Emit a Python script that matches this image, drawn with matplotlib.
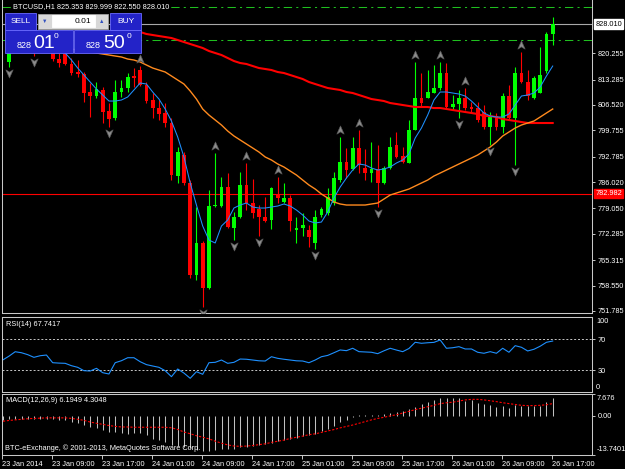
import numpy as np
import matplotlib.pyplot as plt
from matplotlib import transforms
from matplotlib.patches import Rectangle
from matplotlib.path import Path

plt.rcParams["font.family"] = ["Liberation Sans", "DejaVu Sans"]

# BTCUSD H1 (BTC-e), bars from 23 Jan 2014 01:00 to 26 Jan 2014 17:00
opens = [
    823.78, 817.94, 820.86, 822.72, 821.66, 821.13, 820.59, 822.19, 821.66, 818.73,
    820.06, 817.41, 815.28, 814.75, 809.97, 808.90, 810.50, 804.92, 803.06, 809.97,
    811.03, 814.22, 815.81, 811.82, 807.84, 805.71, 804.39, 801.73, 787.65, 793.23,
    785.79, 761.34, 769.85, 757.89, 779.67, 779.67, 784.72, 773.83, 776.75, 785.26,
    780.47, 778.88, 776.75, 775.95, 782.60, 780.74, 781.80, 773.30, 773.83, 773.30,
    769.85, 777.28, 777.81, 780.47, 786.58, 791.37, 789.51, 795.09, 789.77, 788.44,
    789.51, 785.79, 789.77, 795.88, 792.96, 791.10, 799.87, 808.37, 808.37, 809.70,
    811.03, 815.01, 805.98, 806.78, 808.37, 805.98, 805.71, 804.65, 800.67, 803.59,
    800.67, 808.90, 803.06, 815.01, 812.62, 808.37, 809.70, 815.54, 825.353,
]
highs = [
    825.11, 822.45, 824.31, 823.78, 822.45, 821.92, 823.25, 824.31, 822.45, 820.33,
    820.59, 819.00, 818.47, 815.28, 812.36, 812.62, 811.29, 807.04, 813.15, 813.15,
    815.01, 816.34, 816.87, 812.62, 809.70, 807.84, 807.04, 803.06, 795.35, 794.02,
    786.58, 779.41, 770.38, 783.93, 793.76, 787.38, 788.44, 778.08, 788.71, 791.10,
    786.85, 779.94, 782.07, 784.72, 787.38, 785.79, 782.60, 776.75, 777.81, 774.63,
    778.61, 779.41, 784.46, 788.71, 798.01, 795.09, 798.01, 799.87, 794.82, 796.68,
    795.88, 790.30, 798.01, 799.34, 795.35, 802.53, 817.94, 815.01, 815.81, 817.14,
    817.94, 817.67, 809.17, 810.50, 811.03, 807.31, 807.31, 806.51, 804.65, 804.39,
    809.70, 811.82, 816.61, 820.59, 815.81, 814.22, 821.92, 825.91, 829.999,
]
lows = [
    821.13, 816.61, 820.59, 820.86, 820.59, 819.53, 820.59, 821.66, 818.20, 816.61,
    817.14, 814.48, 813.95, 807.31, 803.32, 808.37, 801.73, 800.67, 802.53, 808.64,
    809.97, 811.29, 811.56, 807.04, 803.06, 802.53, 800.67, 786.58, 785.79, 785.26,
    760.54, 760.01, 752.84, 757.62, 779.41, 779.41, 773.83, 770.64, 776.49, 778.61,
    776.49, 771.71, 775.42, 773.56, 780.47, 780.47, 773.03, 769.85, 771.71, 768.78,
    768.25, 776.75, 777.28, 779.94, 786.05, 787.11, 789.24, 788.44, 786.58, 786.05,
    779.41, 785.52, 789.51, 792.43, 791.10, 791.10, 799.87, 805.98, 808.37, 809.70,
    810.50, 805.71, 805.18, 803.06, 805.18, 804.65, 801.99, 800.13, 795.88, 799.87,
    799.07, 802.53, 790.57, 812.36, 807.84, 808.10, 809.70, 815.01, 822.550,
]
closes = [
    821.66, 820.59, 822.72, 821.66, 821.13, 820.33, 822.19, 823.25, 818.73, 817.67,
    817.41, 815.01, 814.75, 809.70, 808.90, 810.76, 804.65, 802.79, 809.97, 811.03,
    813.95, 813.82, 811.82, 807.57, 805.71, 804.12, 801.73, 787.91, 794.02, 785.79,
    761.34, 769.85, 757.89, 779.67, 779.94, 784.72, 774.10, 776.75, 785.26, 780.47,
    777.81, 776.75, 775.69, 784.46, 781.80, 781.80, 775.69, 773.83, 774.63, 771.44,
    776.75, 778.88, 782.07, 787.11, 791.37, 789.24, 795.09, 790.57, 788.44, 789.51,
    785.79, 789.77, 795.35, 792.70, 791.37, 799.87, 808.37, 807.04, 809.97, 811.03,
    815.01, 805.98, 806.78, 808.37, 805.71, 805.45, 802.53, 800.67, 803.32, 800.67,
    808.90, 803.06, 815.01, 812.62, 808.90, 813.69, 814.48, 825.38, 828.010,
]

# moving averages
ma_fast = [  # blue, from bar 10
    820.33, 818.47, 816.34, 814.48, 812.62, 810.76, 809.17, 807.57, 807.57, 807.84,
    808.64, 810.50, 812.36, 812.09, 809.97, 808.10, 805.45, 802.26, 798.01, 792.70,
    785.79, 779.94, 774.36, 770.64, 769.85, 774.36, 775.95, 779.14, 779.94, 780.47,
    779.41, 779.14, 779.14, 779.41, 779.67, 780.21, 779.67, 778.61, 777.28, 775.69,
    775.16, 775.42, 778.08, 781.80, 784.72, 787.11, 789.24, 790.84, 790.57, 789.77,
    789.24, 789.51, 790.04, 791.10, 791.90, 793.49, 797.74, 800.40, 803.85, 807.84,
    809.97, 809.97, 809.70, 809.43, 808.90, 807.57, 805.98, 804.39, 803.59, 803.32,
    803.32, 804.12, 806.51, 808.90, 809.17, 809.70, 811.29, 814.22, 816.87,
]
ma_mid = [  # orange, from bar 9
    821.92, 821.66, 821.39, 821.13, 820.86, 820.59, 820.33, 820.06, 819.80, 819.53,
    819.27, 818.73, 818.47, 817.94, 817.14, 816.34, 815.81, 815.28, 814.22, 813.15,
    812.09, 810.23, 808.10, 805.45, 803.85, 802.53, 801.20, 799.60, 798.28, 797.21,
    796.15, 795.09, 794.02, 792.70, 791.90, 790.84, 790.04, 788.97, 787.91, 786.58,
    785.26, 784.19, 782.86, 781.80, 780.74, 780.21, 779.94, 779.94, 779.94, 779.94,
    780.21, 780.47, 781.53, 782.60, 783.13, 783.66, 784.19, 784.99, 785.79, 786.58,
    787.65, 788.44, 789.24, 790.04, 790.84, 791.63, 792.43, 793.23, 794.29, 795.35,
    796.68, 798.28, 799.34, 800.40, 801.20, 801.73, 802.26, 803.32, 804.39, 805.45,
]
ma_slow = [  # red, from bar 20
    826.44, 826.17, 825.91, 825.38, 825.11, 824.84, 824.58, 824.31, 823.78, 823.25,
    822.72, 822.19, 821.66, 820.86, 820.33, 819.80, 819.00, 818.20, 817.67, 817.41,
    816.87, 816.34, 816.08, 815.81, 815.28, 815.01, 814.48, 813.95, 813.42, 812.62,
    812.09, 811.56, 811.03, 810.76, 810.50, 809.97, 809.70, 809.17, 808.64, 808.10,
    807.84, 807.57, 807.04, 806.78, 806.51, 806.25, 805.98, 805.98, 805.98, 805.71,
    805.71, 805.45, 805.18, 804.92, 804.65, 804.39, 804.12, 803.59, 803.59, 803.32,
    802.79, 802.53, 802.26, 801.99, 801.73, 801.73, 801.73, 801.73, 801.73,
]

up_fractals = [22, 34, 39, 44, 54, 57, 66, 70, 74, 83]
down_fractals = [1, 5, 17, 32, 37, 41, 50, 60, 73, 78, 82]

rsi = [
    43.0, 48.0, 53.8, 52.5, 50.0, 46.5, 48.6, 49.5, 39.5, 39.0,
    38.7, 35.6, 33.5, 29.1, 28.7, 32.2, 26.5, 24.8, 39.5, 42.1,
    46.0, 46.0, 40.8, 37.0, 35.2, 33.5, 29.1, 21.3, 31.3, 26.0,
    19.2, 27.8, 24.4, 39.5, 40.0, 43.0, 38.7, 40.0, 44.3, 44.0,
    43.0, 42.0, 41.7, 47.3, 45.2, 44.0, 43.0, 42.0, 41.7, 39.5,
    43.0, 47.3, 49.0, 52.5, 56.1, 55.2, 58.3, 53.9, 53.5, 53.1,
    51.3, 55.0, 58.3, 56.0, 53.9, 58.0, 66.1, 64.8, 65.5, 66.0,
    69.1, 58.3, 59.0, 60.4, 57.4, 57.4, 53.1, 51.8, 53.9, 51.8,
    58.3, 53.1, 61.7, 59.6, 54.8, 57.0, 61.0, 66.1, 67.7417,
]
macd_main = [
    -1.6, -1.2, -1.1, -1.1, -1.0, -1.0, -1.0, -1.0, -1.1, -1.3,
    -1.6, -2.0, -2.6, -3.2, -3.8, -4.4, -4.9, -5.6, -5.8, -6.0,
    -6.2, -6.0, -6.1, -6.8, -8.0, -8.6, -9.3, -10.2, -10.6, -10.9,
    -11.4, -11.9, -12.2, -12.3, -12.1, -11.8, -11.7, -11.5, -11.1, -10.8,
    -10.5, -10.3, -9.9, -9.4, -9.0, -8.5, -8.1, -7.6, -7.0, -6.7,
    -6.2, -5.4, -4.6, -3.4, -2.2, -1.3, -0.3, 0.2, 0.2, 0.2,
    0.2, 0.5, 1.1, 1.3, 1.7, 2.3, 3.2, 4.1, 4.9, 5.6,
    6.4, 6.1, 6.1, 6.1, 5.2, 5.6, 4.6, 4.1, 3.7, 3.2,
    3.5, 2.9, 3.7, 3.5, 3.5, 3.5, 3.5, 4.9, 6.1949,
]
macd_signal = [
    -1.9, -1.6, -1.4, -1.2, -1.0, -0.9, -0.8, -0.7, -0.7, -0.7,
    -0.7, -0.9, -1.2, -1.6, -2.2, -2.6, -3.0, -3.4, -3.7, -3.9,
    -3.9, -4.0, -4.0, -4.0, -4.0, -4.0, -4.0, -4.2, -4.8, -5.7,
    -6.3, -7.0, -7.5, -8.1, -8.9, -9.6, -10.2, -10.6, -10.7, -10.6,
    -10.4, -10.1, -9.8, -9.3, -8.9, -8.5, -7.9, -7.5, -7.1, -6.6,
    -6.3, -5.8, -5.3, -4.8, -4.2, -3.7, -3.2, -2.6, -2.0, -1.4,
    -0.9, -0.5, 0.0, 0.4, 1.0, 1.6, 2.2, 2.7, 3.2, 3.7,
    4.3, 4.6, 4.8, 5.2, 5.6, 5.8, 5.8, 5.6, 5.3, 5.0,
    4.6, 4.3, 4.0, 3.7, 3.6, 3.6, 3.7, 3.9, 4.3048,
]

price_ticks = [751.785, 758.550, 765.315, 772.285, 779.050, 786.020,
               792.785, 799.755, 806.520, 813.285, 820.255]
time_ticks = [0, 8, 16, 24, 32, 40, 48, 56, 64, 72, 80, 88]
time_labels = ["23 Jan 2014", "23 Jan 09:00", "23 Jan 17:00", "24 Jan 01:00",
               "24 Jan 09:00", "24 Jan 17:00", "25 Jan 01:00", "25 Jan 09:00",
               "25 Jan 17:00", "26 Jan 01:00", "26 Jan 09:00", "26 Jan 17:00"]
bid = 828.010
ask = 828.500
alert_level = 782.982
order_levels = [832.47, 823.78]

W, H, DPI = 625, 469, 100
FG = "#c8c8c8"
FS = 5.3

fig = plt.figure(figsize=(W / DPI, H / DPI), dpi=DPI, facecolor="black")


def window(top, bottom):
    a = fig.add_axes([2 / W, 1 - bottom / H, 589.7 / W, (bottom - top) / H])
    a.set_facecolor("black")
    for s in a.spines.values():
        s.set_color(FG)
        s.set_linewidth(0.75)
    a.set_xlim(-0.11, 94.24)
    a.yaxis.tick_right()
    a.tick_params(axis="y", colors=FG, labelcolor="white", labelsize=FS,
                  length=2.5, width=0.7, pad=2)
    a.tick_params(axis="x", bottom=False, labelbottom=False)
    return a


def edge_label(a, val, text, va, dy):
    a.annotate(text, xy=(1, val), xycoords=("axes fraction", "data"),
               xytext=(4.5, dy), textcoords="offset pixels", ha="left", va=va,
               fontsize=FS, color="white", annotation_clip=False)


def tag(a, val, text, fc, tc):
    a.annotate(text, xy=(1, val), xycoords=("axes fraction", "data"),
               xytext=(3.5, 0), textcoords="offset pixels", ha="left",
               va="center", fontsize=FS, color=tc, annotation_clip=False,
               bbox=dict(boxstyle="square,pad=0.18", fc=fc, ec=fc), zorder=10)


ax = window(0.5, 313)
ax.spines["top"].set_visible(False)
ax_rsi = window(316.5, 391.7)
ax_macd = window(394, 455)

# ---- main window ----
x = np.arange(len(closes))
o, hi, lo, c = (np.array(v) for v in (opens, highs, lows, closes))
colors = np.where(c >= o, "#00ff00", "#ff0000")

ax.set_ylim(751.25, 834.28)
ax.axhline(alert_level, color="#ff0000", lw=0.8, zorder=1)
ax.axhline(bid, color="#a8a8a8", lw=0.8, zorder=1)
for lvl in order_levels:
    ax.axhline(lvl, color="#1fbf1f", lw=0.75, dashes=(8, 4, 2, 4), zorder=1)

ax.vlines(x[1:], lo[1:], hi[1:], colors=colors[1:], lw=0.8, zorder=3)
ax.bar(x[1:], np.maximum(np.abs(c - o), 0.3)[1:], bottom=np.minimum(o, c)[1:],
       width=0.6, color=colors[1:], linewidth=0, zorder=3)

ax.plot(x[20:], ma_slow, color="#ff0000", lw=1.5, zorder=4)
ax.plot(x[9:], ma_mid, color="#ff8a1e", lw=1.0, zorder=4)
ax.plot(x[10:], ma_fast, color="#1e90ff", lw=0.75, zorder=5)

codes = [Path.MOVETO, Path.LINETO, Path.LINETO, Path.LINETO, Path.CLOSEPOLY]
arrow_up = Path([(0, 1), (0.8, -0.8), (0, -0.3), (-0.8, -0.8), (0, 1)], codes)
arrow_dn = Path([(0, -1), (0.8, 0.8), (0, 0.3), (-0.8, 0.8), (0, -1)], codes)
up_tr = transforms.offset_copy(ax.transData, fig=fig, y=7, units="dots")
dn_tr = transforms.offset_copy(ax.transData, fig=fig, y=-6, units="dots")
ax.plot(up_fractals, hi[up_fractals], ls="none", marker=arrow_up, ms=6.5,
        mfc="#8c8c8c", mec="#5a5a5a", mew=0.5, transform=up_tr, zorder=6)
ax.plot(down_fractals, lo[down_fractals], ls="none", marker=arrow_dn, ms=6.5,
        mfc="#8c8c8c", mec="#5a5a5a", mew=0.5, transform=dn_tr, zorder=6)

ax.set_yticks(price_ticks, labels=[f"{v:.3f}" for v in price_ticks])
tag(ax, bid, f"{bid:.3f}", "white", "black")
tag(ax, alert_level, f"{alert_level:.3f}", "#ff0000", "white")

# ---- RSI ----
ax_rsi.set_ylim(1.73, 99.7)
for lv in (70, 30):
    ax_rsi.axhline(lv, color=FG, lw=0.7, dashes=(2, 2))
ax_rsi.plot(x, rsi, color="#1e90ff", lw=0.8)
ax_rsi.set_yticks([70, 30], labels=["70", "30"])
edge_label(ax_rsi, 99.7, "100", "top", -1.5)
edge_label(ax_rsi, 1.73, "0", "bottom", 1)

# ---- MACD ----
ax_macd.set_ylim(-13.7401, 7.676)
ax_macd.vlines(x, 0, macd_main, colors="#c0c0c0", lw=0.75)
ax_macd.plot(x, macd_signal, color="#ff0000", lw=0.8, dashes=(2, 1.5))
ax_macd.set_yticks([7.676, 0, -13.7401], labels=["", "0.00", ""])
edge_label(ax_macd, 7.676, "7.676", "top", -1)
edge_label(ax_macd, -13.7401, "-13.7401", "bottom", 2)
ax_macd.set_xticks(np.array(time_ticks) - 0.16, labels=time_labels)
ax_macd.tick_params(axis="x", bottom=True, labelbottom=True, colors=FG,
                    labelcolor="white", labelsize=FS, length=3, width=0.7, pad=1.5)
plt.setp(ax_macd.get_xticklabels(), ha="left")

# ---- overlay: captions and one-click trading panel (pixel coordinates) ----
ov = fig.add_axes([0, 0, 1, 1])
ov.set_xlim(0, W)
ov.set_ylim(H, 0)
ov.axis("off")

txt = dict(color="white", fontsize=FS, ha="left", va="center")
ov.text(13, 7, f"BTCUSD,H1 {o[-1]:.3f} {hi[-1]:.3f} {lo[-1]:.3f} {c[-1]:.3f}",
        bbox=dict(fc="black", ec="none", pad=0.5), **txt)
ov.text(6, 325, f"RSI(14) {rsi[-1]:.4f}", **txt)
ov.text(6, 401, f"MACD(12,26,9) {macd_main[-1]:.4f} {macd_signal[-1]:.4f}", **txt)
ov.text(5, 448.5, "BTC-eExchange, © 2001-2013, MetaQuotes Software Corp.", **txt)

PANEL, EDGE = "#2323c8", "#6a6aff"


def box(x0, y0, x1, y1, fc, ec):
    ov.add_patch(Rectangle((x0, y0), x1 - x0, y1 - y0, fc=fc, ec=ec, lw=0.6))


box(5, 13, 36, 30, PANEL, EDGE)
box(110, 13, 141, 30, PANEL, EDGE)
box(5, 30, 73, 53, PANEL, EDGE)
box(74, 30, 141, 53, PANEL, EDGE)
box(38, 14, 108, 29, "#d8d8d8", "#a0a0a0")
box(52, 15.5, 95, 27.5, "white", "white")
ov.text(20.5, 21.5, "SELL", color="white", fontsize=6, ha="center", va="center")
ov.text(125.5, 21.5, "BUY", color="white", fontsize=6, ha="center", va="center")
ov.text(91, 21.5, "0.01", color="black", fontsize=6, ha="right", va="center")
ov.text(45, 21.5, "▼", color="#3050c0", fontsize=4, ha="center", va="center")
ov.text(101.5, 21.5, "▲", color="#3050c0", fontsize=4, ha="center", va="center")

for x0, price, big_dx, sup_dx in ((5, bid, 28, 49), (74, ask, 29, 53)):
    s = f"{price:.3f}"
    ov.text(x0 + 12, 47.5, s[:3], color="white", fontsize=6.5, ha="left", va="baseline")
    ov.text(x0 + big_dx, 47.5, s[4:6], color="white", fontsize=14, ha="left", va="baseline")
    ov.text(x0 + sup_dx, 33, s[6], color="white", fontsize=6, ha="left", va="top")

fig.savefig("out.png", dpi=DPI, facecolor="black")
